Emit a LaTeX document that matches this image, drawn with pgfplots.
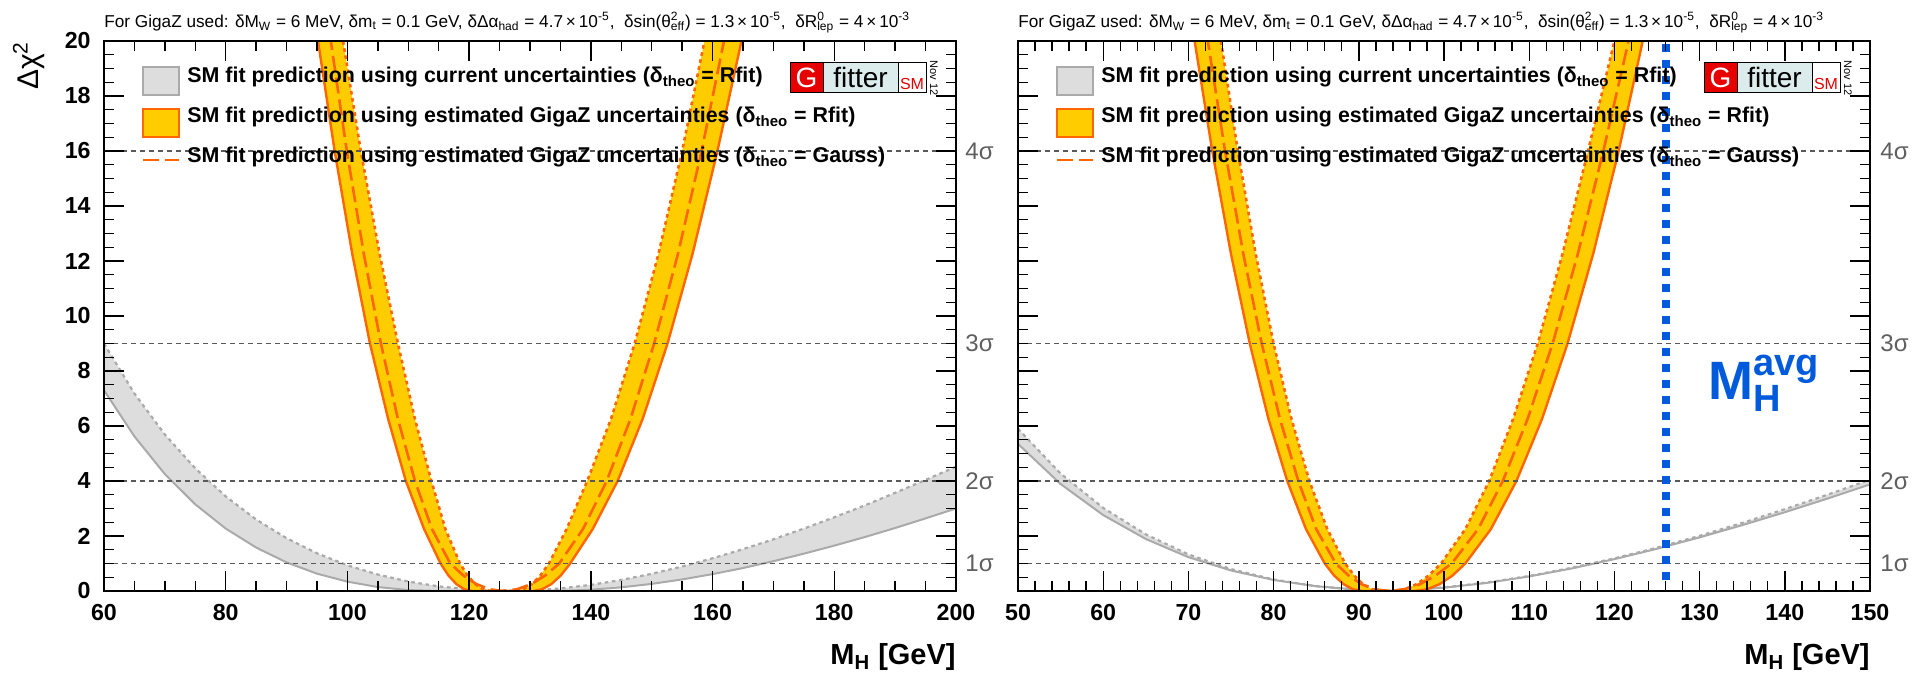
\documentclass[border=0pt]{standalone}
\usepackage{fontspec}
\setmainfont{Liberation Sans}
\usepackage{pgfplots}
\pgfplotsset{compat=1.18}
\definecolor{gold}{RGB}{255,204,0}
\definecolor{orng}{RGB}{255,102,0}
\definecolor{bandgrey}{RGB}{221,221,221}
\definecolor{linegrey}{RGB}{170,170,170}
\definecolor{sigmagrey}{RGB}{95,95,95}
\definecolor{mhblue}{RGB}{0,90,220}
\definecolor{logored}{RGB}{230,0,0}
\definecolor{logocyan}{RGB}{220,236,236}
\newcommand\tickfont{\bfseries\fontsize{11.6}{12}\selectfont}
\newcommand\legfont{\bfseries\fontsize{10.7}{12}\selectfont}
\newcommand\hdrfont{\fontsize{8.6}{10}\selectfont}
\newcommand\sigfont{\fontsize{12}{13}\selectfont}
\newcommand\supsub[2]{\rlap{\textsuperscript{#1}}\textsubscript{#2}}
\newcommand\hdr{For GigaZ used: δM\textsubscript{W} = 6 MeV, δm\textsubscript{t} = 0.1 GeV, δΔα\textsubscript{had} = 4.7\,×\,10\textsuperscript{-5}, \ δsin(θ\supsub{2}{eff}) = 1.3\,×\,10\textsuperscript{-5}, \ δR\supsub{0}{lep} = 4\,×\,10\textsuperscript{-3}}
\newcommand\decor{%
 \filldraw[fill=bandgrey, draw=linegrey, line width=0.7pt] (19.5pt,248pt) rectangle (37.5pt,262pt);
 \filldraw[fill=gold, draw=orng, line width=0.7pt] (19.5pt,227pt) rectangle (37.5pt,241pt);
 \draw[orng, line width=1.3pt, dash pattern=on 8pt off 3pt] (19.5pt,215.5pt) -- (37.5pt,215.5pt);
 \node[anchor=base west, inner sep=0pt, font=\legfont] at (41.5pt,254pt) {SM fit prediction using current uncertainties (δ\textsubscript{theo} = Rfit)};
 \node[anchor=base west, inner sep=0pt, font=\legfont] at (41.5pt,234pt) {SM fit prediction using estimated GigaZ uncertainties (δ\textsubscript{theo} = Rfit)};
 \node[anchor=base west, inner sep=0pt, font=\legfont] at (41.5pt,214pt) {SM fit prediction using estimated GigaZ uncertainties (δ\textsubscript{theo} = Gauss)};
 \fill[logored] (343pt,249pt) rectangle (359.5pt,264pt);
 \fill[logocyan] (359.5pt,249pt) rectangle (397pt,264pt);
 \fill[white] (397pt,249pt) rectangle (411pt,264pt);
 \draw[line width=0.5pt] (343pt,249pt) rectangle (411pt,264pt);
 \draw[line width=0.5pt] (359.5pt,249pt) -- (359.5pt,264pt) (397pt,249pt) -- (397pt,264pt);
 \node[white, inner sep=0pt, font=\fontsize{14}{14}\selectfont] at (351.25pt,256.5pt) {G};
 \node[inner sep=0pt, font=\fontsize{14}{14}\selectfont] at (378.25pt,256.5pt) {fitter};
 \node[logored, anchor=south, inner sep=0pt, font=\fontsize{8}{8}\selectfont] at (404pt,250.5pt) {SM};
 \node[rotate=-90, inner sep=0pt, font=\fontsize{5.5}{6}\selectfont] at (415pt,256.5pt) {Nov 12};
}
\pgfplotsset{
 gfstyle/.style={scale only axis, width=426pt, height=275pt, ymin=0, ymax=20,
  ytick={0,2,...,20}, minor y tick num=3,
  axis line style={line width=1.2pt}, tick style={black, line width=0.7pt},
  major tick length=10pt, minor tick length=5pt,
  ticklabel style={font=\tickfont}, /pgf/number format/assume math mode=true,
  /pgf/number format/1000 sep={},
  xticklabel style={inner sep=0pt, yshift=-6.5pt},
  yticklabel style={inner sep=0pt, xshift=-6.5pt},
  clip mode=individual, axis on top},
 greyfill/.style={fill=bandgrey, draw=none, forget plot},
 greysolid/.style={linegrey, line width=1pt},
 greydot/.style={linegrey, line width=1.1pt, dash pattern=on 1.8pt off 1.8pt},
 goldfill/.style={fill=gold, draw=none},
 orsolid/.style={orng, line width=1.2pt},
 ordot/.style={orng, line width=1.3pt, dash pattern=on 1.8pt off 1.8pt},
 orgauss/.style={orng, line width=1.3pt, dash pattern=on 8pt off 3pt},
 siggrid/.style={black!65, line width=0.6pt, dash pattern=on 2.5pt off 2pt}
}
\begin{document}
\begin{tikzpicture}
\useasboundingbox (-52pt,-41pt) rectangle (905.5pt,295.5pt);
% ---------------- left panel ----------------
\begin{axis}[gfstyle, at={(0pt,0pt)}, anchor=south west,
  xmin=60, xmax=200, xtick={60,80,...,200}, minor x tick num=3]
\addplot[greyfill] coordinates {(60,7.30)(65,5.62)(70,4.25)(75,3.15)(80,2.27)(85,1.58)(90,1.04)(95,0.63)(100,0.34)(105,0.143)(110,0.034)(115,0)(133.1,0)(135,0.004)(140,0.046)(145,0.133)(150,0.259)(155,0.42)(160,0.614)(165,0.835)(170,1.084)(175,1.357)(180,1.65)(185,1.96)(190,2.29)(195,2.64)(200,3.00)
 (200,4.52)(195,4.04)(190,3.57)(185,3.11)(180,2.68)(175,2.27)(170,1.88)(165,1.52)(160,1.19)(155,0.890)(150,0.626)(145,0.402)(140,0.222)(135,0.091)(130,0.016)(127,0)(125,0.006)(120,0.058)(115,0.168)(110,0.345)(105,0.597)(100,0.934)(95,1.37)(90,1.92)(85,2.60)(80,3.44)(75,4.46)(70,5.69)(65,7.18)(60,9.00)} -- cycle;
\addplot[greysolid] coordinates {(60,7.30)(65,5.62)(70,4.25)(75,3.15)(80,2.27)(85,1.58)(90,1.04)(95,0.63)(100,0.34)(105,0.143)(110,0.034)(115,0)(133.1,0)(135,0.004)(140,0.046)(145,0.133)(150,0.259)(155,0.42)(160,0.614)(165,0.835)(170,1.084)(175,1.357)(180,1.65)(185,1.96)(190,2.29)(195,2.64)(200,3.00)};
\addplot[greydot] coordinates {(60,9.00)(65,7.18)(70,5.69)(75,4.46)(80,3.44)(85,2.60)(90,1.92)(95,1.37)(100,0.934)(105,0.597)(110,0.345)(115,0.168)(120,0.058)(125,0.006)(127,0)(130,0.016)(135,0.091)(140,0.222)(145,0.402)(150,0.626)(155,0.890)(160,1.19)(165,1.52)(170,1.88)(175,2.27)(180,2.68)(185,3.11)(190,3.57)(195,4.04)(200,4.52)};
\addplot[goldfill] coordinates {(95.0,20.25)(97.9,16)(100.8,12.25)(103.7,9)(106.7,6.25)(109.6,4)(112.6,2.25)(115.3,1)(116.6,0.5625)(117.9,0.25)(119.2,0.0625)(120.5,0)(123.5,0)(122.25,0.0625)(121.0,0.25)(119.75,0.5625)(118.5,1)(116.1,2.25)(113.8,4)(111.1,6.25)(108.3,9)(105.3,12.25)(102.2,16)(99.1,20.25)} -- cycle;
\addplot[goldfill] coordinates {(158.9,20.25)(155.0,16)(151.1,12.25)(147.2,9)(143.3,6.25)(139.4,4)(136.0,2.25)(133.1,1)(131.7,0.5625)(130.3,0.25)(128.9,0.0625)(127.5,0)(130.5,0)(132.0,0.0625)(133.5,0.25)(135.05,0.5625)(136.6,1)(140.3,2.25)(144.4,4)(148.5,6.25)(152.6,9)(156.7,12.25)(160.8,16)(165.0,20.25)} -- cycle;
\addplot[orsolid] coordinates {(95.0,20.25)(97.9,16)(100.8,12.25)(103.7,9)(106.7,6.25)(109.6,4)(112.6,2.25)(115.3,1)(116.6,0.5625)(117.9,0.25)(119.2,0.0625)(120.5,0)(130.5,0)(132.0,0.0625)(133.5,0.25)(135.05,0.5625)(136.6,1)(140.3,2.25)(144.4,4)(148.5,6.25)(152.6,9)(156.7,12.25)(160.8,16)(165.0,20.25)};
\addplot[ordot] coordinates {(99.1,20.25)(102.2,16)(105.3,12.25)(108.3,9)(111.1,6.25)(113.8,4)(116.1,2.25)(118.5,1)(119.75,0.5625)(121.0,0.25)(122.25,0.0625)(123.5,0)(127.5,0)(128.9,0.0625)(130.3,0.25)(131.7,0.5625)(133.1,1)(136.0,2.25)(139.4,4)(143.3,6.25)(147.2,9)(151.1,12.25)(155.0,16)(158.9,20.25)};
\addplot[orgauss] coordinates {(97.1,20.25)(99.9,16)(102.7,12.25)(105.5,9)(108.3,6.25)(111.1,4)(113.9,2.25)(116.9,1)(119.05,0.5625)(121.2,0.25)(123.35,0.0625)(125.5,0)(127.85,0.0625)(130.2,0.25)(132.5,0.5625)(134.8,1)(138.7,2.25)(142.6,4)(146.5,6.25)(150.4,9)(154.3,12.25)(158.2,16)(162.1,20.25)};
\addplot[siggrid] coordinates {(60,1)(200,1)};
\addplot[siggrid] coordinates {(60,4)(200,4)};
\addplot[siggrid] coordinates {(60,9)(200,9)};
\addplot[siggrid] coordinates {(60,16)(200,16)};
\node[anchor=west, inner sep=0pt, xshift=4.5pt, text=sigmagrey, font=\sigfont] at (axis cs:200,1) {1σ};
\node[anchor=west, inner sep=0pt, xshift=4.5pt, text=sigmagrey, font=\sigfont] at (axis cs:200,4) {2σ};
\node[anchor=west, inner sep=0pt, xshift=4.5pt, text=sigmagrey, font=\sigfont] at (axis cs:200,9) {3σ};
\node[anchor=west, inner sep=0pt, xshift=4.5pt, text=sigmagrey, font=\sigfont] at (axis cs:200,16) {4σ};
\end{axis}
\decor
\node[anchor=base west, inner sep=0pt, font=\hdrfont] at (0pt,281.5pt) {\hdr};
\node[anchor=base east, inner sep=0pt, font=\bfseries\fontsize{14.5}{15}\selectfont] at (426pt,-37pt) {M\textsubscript{H} [GeV]};
\node[rotate=90, anchor=base east, inner sep=0pt, font=\fontsize{15}{16}\selectfont] at (-33pt,275pt) {Δχ\textsuperscript{2}};
% ---------------- right panel ----------------
\begin{axis}[gfstyle, at={(457pt,0pt)}, anchor=south west,
  xmin=50, xmax=150, xtick={50,60,...,150}, minor x tick num=4, yticklabels={}]
\addplot[greyfill] coordinates {(50,5.35)(55,3.89)(60,2.76)(65,1.89)(70,1.23)(75,0.746)(80,0.401)(85,0.173)(90,0.045)(92,0.018)(93.5,0.005)(95,0.020)(100,0.120)(105,0.293)(110,0.530)(115,0.820)(120,1.158)(125,1.536)(130,1.950)(135,2.394)(140,2.864)(145,3.36)(150,3.875)
 (150,4.047)(145,3.50)(140,2.975)(135,2.475)(130,2.006)(125,1.575)(120,1.185)(115,0.845)(110,0.545)(105,0.305)(100,0.130)(95,0.012)(92.7,0.003)(90,0.040)(85,0.174)(80,0.419)(75,0.795)(70,1.33)(65,2.06)(60,3.02)(55,4.27)(50,5.90)} -- cycle;
\addplot[greysolid] coordinates {(50,5.35)(55,3.89)(60,2.76)(65,1.89)(70,1.23)(75,0.746)(80,0.401)(85,0.173)(90,0.045)(92,0.018)(93.5,0.005)(95,0.020)(100,0.120)(105,0.293)(110,0.530)(115,0.820)(120,1.158)(125,1.536)(130,1.950)(135,2.394)(140,2.864)(145,3.36)(150,3.875)};
\addplot[greydot] coordinates {(50,5.90)(55,4.27)(60,3.02)(65,2.06)(70,1.33)(75,0.795)(80,0.419)(85,0.174)(90,0.040)(92.7,0.003)(95,0.012)(100,0.130)(105,0.305)(110,0.545)(115,0.845)(120,1.185)(125,1.575)(130,2.006)(135,2.475)(140,2.975)(145,3.50)(150,4.047)};
\addplot[goldfill] coordinates {(70.6,20.25)(72.8,16)(75.0,12.25)(77.2,9)(79.4,6.25)(81.6,4)(83.8,2.25)(86.0,1)(87.1,0.5625)(88.2,0.25)(89.3,0.0625)(90.4,0)(92.6,0)(91.55,0.0625)(90.5,0.25)(89.45,0.5625)(88.4,1)(86.3,2.25)(84.2,4)(82.1,6.25)(80.0,9)(77.9,12.25)(75.8,16)(73.7,20.25)} -- cycle;
\addplot[goldfill] coordinates {(120.2,20.25)(116.9,16)(113.9,12.25)(111.0,9)(108.1,6.25)(105.3,4)(102.5,2.25)(99.65,1)(98.2,0.5625)(96.8,0.25)(95.4,0.0625)(94.0,0)(96.5,0)(98.0,0.0625)(99.5,0.25)(101.0,0.5625)(102.5,1)(105.5,2.25)(108.5,4)(111.5,6.25)(114.5,9)(117.5,12.25)(120.5,16)(123.5,20.25)} -- cycle;
\addplot[orsolid] coordinates {(70.6,20.25)(72.8,16)(75.0,12.25)(77.2,9)(79.4,6.25)(81.6,4)(83.8,2.25)(86.0,1)(87.1,0.5625)(88.2,0.25)(89.3,0.0625)(90.4,0)(96.5,0)(98.0,0.0625)(99.5,0.25)(101.0,0.5625)(102.5,1)(105.5,2.25)(108.5,4)(111.5,6.25)(114.5,9)(117.5,12.25)(120.5,16)(123.5,20.25)};
\addplot[ordot] coordinates {(73.7,20.25)(75.8,16)(77.9,12.25)(80.0,9)(82.1,6.25)(84.2,4)(86.3,2.25)(88.4,1)(89.45,0.5625)(90.5,0.25)(91.55,0.0625)(92.6,0)(94.0,0)(95.4,0.0625)(96.8,0.25)(98.2,0.5625)(99.65,1)(102.5,2.25)(105.3,4)(108.1,6.25)(111.0,9)(113.9,12.25)(116.9,16)(120.2,20.25)};
\addplot[orgauss] coordinates {(72.15,20.25)(74.3,16)(76.45,12.25)(78.6,9)(80.75,6.25)(82.9,4)(85.0,2.25)(87.3,1)(88.8,0.5625)(90.3,0.25)(91.9,0.0625)(93.5,0)(95.3,0.0625)(97.2,0.25)(99.0,0.5625)(100.9,1)(104.0,2.25)(106.9,4)(109.8,6.25)(112.75,9)(115.7,12.25)(118.7,16)(121.85,20.25)};
\addplot[siggrid] coordinates {(50,1)(150,1)};
\addplot[siggrid] coordinates {(50,4)(150,4)};
\addplot[siggrid] coordinates {(50,9)(150,9)};
\addplot[siggrid] coordinates {(50,16)(150,16)};
\addplot[mhblue, line width=4pt, dash pattern=on 4pt off 4pt] coordinates {(126,0.4)(126,20)};
\node[anchor=base west, inner sep=0pt, text=mhblue, font=\bfseries\fontsize{27}{27}\selectfont] at (axis cs:131,6.98) {M\rlap{\raisebox{12pt}{\fontsize{19}{19}\selectfont avg}}\raisebox{-6pt}{\fontsize{19}{19}\selectfont H}};
\node[anchor=west, inner sep=0pt, xshift=5pt, text=sigmagrey, font=\sigfont] at (axis cs:150,1) {1σ};
\node[anchor=west, inner sep=0pt, xshift=5pt, text=sigmagrey, font=\sigfont] at (axis cs:150,4) {2σ};
\node[anchor=west, inner sep=0pt, xshift=5pt, text=sigmagrey, font=\sigfont] at (axis cs:150,9) {3σ};
\node[anchor=west, inner sep=0pt, xshift=5pt, text=sigmagrey, font=\sigfont] at (axis cs:150,16) {4σ};
\end{axis}
\begin{scope}[shift={(457pt,0pt)}]
\decor
\node[anchor=base west, inner sep=0pt, font=\hdrfont] at (0pt,281.5pt) {\hdr};
\node[anchor=base east, inner sep=0pt, font=\bfseries\fontsize{14.5}{15}\selectfont] at (426pt,-37pt) {M\textsubscript{H} [GeV]};
\end{scope}
\end{tikzpicture}
\end{document}
